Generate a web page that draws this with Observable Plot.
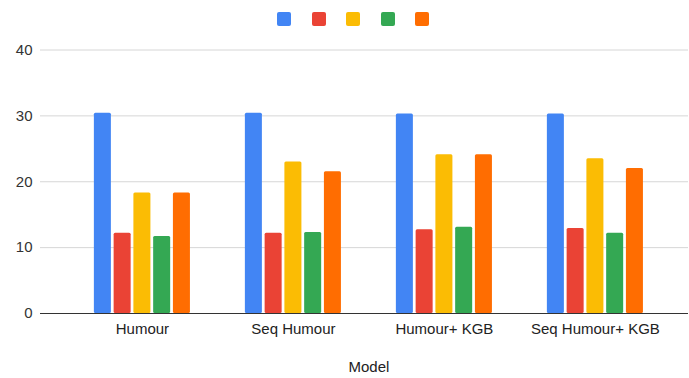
<!DOCTYPE html>
<html>
<head>
<meta charset="utf-8">
<script src="https://cdn.jsdelivr.net/npm/d3@7"></script>
<script src="https://cdn.jsdelivr.net/npm/@observablehq/plot@0.6"></script>
<style>
  html, body { margin: 0; padding: 0; background: #fff; }
  body { width: 689px; height: 378px; overflow: hidden; font-family: Arial, "Liberation Sans", sans-serif; }
  #legend { height: 34px; box-sizing: border-box; padding: 12px 0 0 277px; display: flex; gap: 20.5px; }
  #legend span { display: block; width: 14px; height: 14px; border-radius: 2px; }
  #chart { position: relative; width: 689px; height: 344px; }
  #chart svg { position: absolute; left: 0; top: 0; }
</style>
</head>
<body>
<div id="legend"></div>
<div id="chart"></div>
<script>
// Models on the category axis
const models = ["Humour", "Seq Humour", "Humour+ KGB", "Seq Humour+ KGB"];

// Five unnamed series, one value per model
const series = ["s1", "s2", "s3", "s4", "s5"];
const seriesColors = ["#4285F4", "#EA4335", "#FBBC04", "#34A853", "#FF6D01"];

const s1 = [30.4, 30.4, 30.3, 30.3];
const s2 = [12.2, 12.2, 12.7, 12.9];
const s3 = [18.3, 23.0, 24.1, 23.5];
const s4 = [11.7, 12.3, 13.1, 12.2];
const s5 = [18.3, 21.5, 24.1, 22.0];

const yTicks = [0, 10, 20, 30, 40];

const seriesValues = [s1, s2, s3, s4, s5];
const rows = models.flatMap((model, i) =>
  series.map((s, j) => ({ model, series: s, value: seriesValues[j][i] }))
);

// Legend: colour swatches only (series carry no names)
d3.select("#legend")
  .selectAll("span")
  .data(series)
  .join("span")
  .style("background", (d, i) => seriesColors[i]);

// Shared frame geometry for the layers
const frame = {
  width: 689,
  height: 344,
  marginLeft: 40,
  marginRight: 1,
  marginTop: 15.5,
  marginBottom: 65
};
const font = { fontFamily: "Arial, 'Liberation Sans', sans-serif", fontSize: "15px", color: "#222" };

// Back layer: value gridlines and y tick labels spanning the whole frame
const grid = Plot.plot({
  ...frame,
  style: { ...font, background: "#fff" },
  y: { domain: [0, 40], axis: null },
  marks: [
    Plot.ruleY(yTicks.filter(d => d > 0), { stroke: "#d6d6d6", strokeOpacity: 1 }),
    Plot.text(yTicks, {
      y: d => d,
      text: d => String(d),
      frameAnchor: "left",
      textAnchor: "end",
      dx: -8,
      fill: "#333",
      fontSize: 15
    })
  ]
});

// Front layer: grouped bars faceted by model
const bars = Plot.plot({
  ...frame,
  style: { ...font, background: "transparent" },
  fx: {
    domain: models,
    round: false,
    paddingInner: 0,
    paddingOuter: 0.1457,
    align: 0.6,
    axis: "bottom",
    tickSize: 0,
    tickPadding: 10,
    label: "Model",
    labelAnchor: "center",
    labelOffset: 58
  },
  x: { domain: series, axis: null, round: false, paddingInner: 0.139, paddingOuter: 1.39 },
  y: { domain: [0, 40], axis: null },
  color: { domain: series, range: seriesColors },
  marks: [
    Plot.barY(rows, { fx: "model", x: "series", y: "value", fill: "series", rx: 1.5 })
  ]
});

// Baseline drawn on top of the bars
const base = Plot.plot({
  ...frame,
  style: { ...font, background: "transparent" },
  y: { domain: [0, 40], axis: null },
  marks: [Plot.ruleY([0], { stroke: "#333", strokeOpacity: 1 })]
});

const host = document.getElementById("chart");
host.appendChild(grid);
host.appendChild(bars);
host.appendChild(base);
</script>
</body>
</html>
